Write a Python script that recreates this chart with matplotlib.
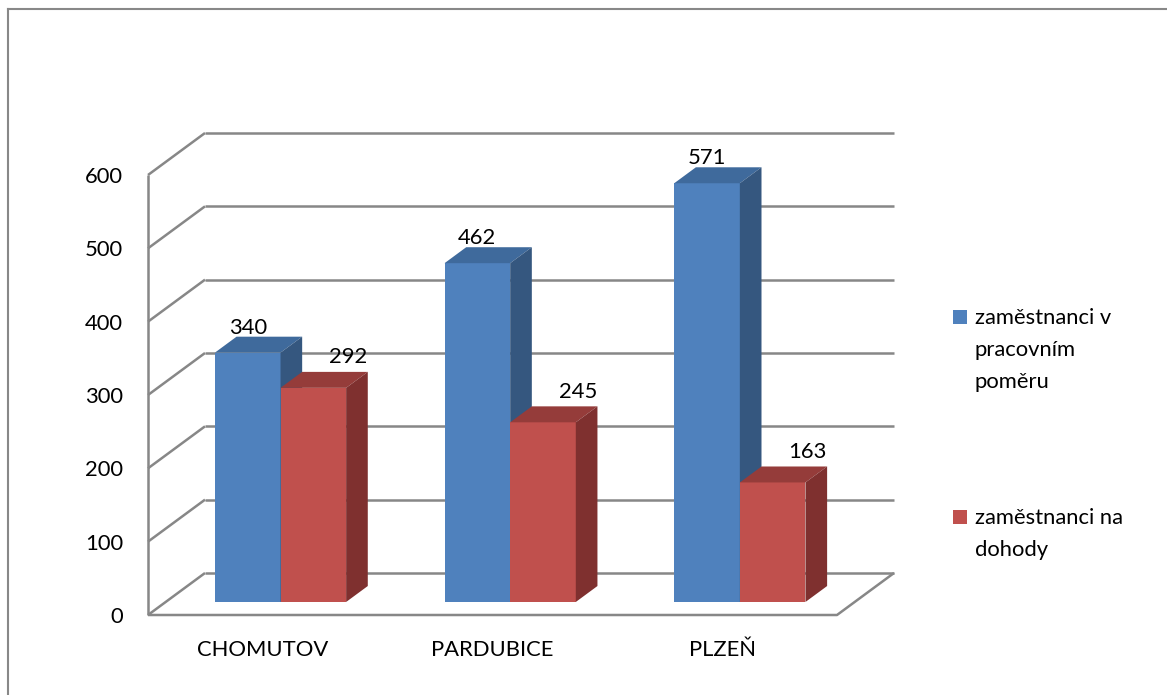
import textwrap
import matplotlib.pyplot as plt
from matplotlib.patches import Polygon, Rectangle
from matplotlib.lines import Line2D

plt.rcParams['font.family'] = ['Lato', 'DejaVu Sans']

# data
mesta = ['CHOMUTOV', 'PARDUBICE', 'PLZEŇ']
serie = ['zaměstnanci v pracovním poměru', 'zaměstnanci na dohody']
pracovni_pomer = [340, 462, 571]
dohody = [292, 245, 163]
hodnoty = [pracovni_pomer, dohody]
y_ticks = [0, 100, 200, 300, 400, 500, 600]

# colours: front / top / side face of each series
barvy = [
    ('#4F81BD', '#3F6A9C', '#35577F'),
    ('#C0504D', '#953C3A', '#7F302F'),
]
grid_color = '#878787'

W, H = 1167, 695
fig = plt.figure(figsize=(W / 100, H / 100), dpi=100)

# axes = front plane of the 3d box
ax = fig.add_axes([148 / W, (H - 615) / H, 689 / W, 440 / H])
ax.set_xlim(0, 3)
ax.set_ylim(0, 600)
for s in ax.spines.values():
    s.set_visible(False)

# depth of the box in data units
DX = 57 / 689 * 3
DY = 42 / 440 * 600
d0, d1 = 0.31, 0.69  # bars sit in the middle of the depth
gap = 1.5
bw = 1 / (2 + gap)

lw = 1.8
def line(xs, ys):
    ax.add_line(Line2D(xs, ys, color=grid_color, lw=lw, zorder=1, clip_on=False,
                       solid_capstyle='butt'))

# walls and gridlines
for t in y_ticks:
    line([0, DX], [t, t + DY])
    line([DX, 3 + DX], [t + DY, t + DY])
line([0, 0], [0, 600])
line([0, 3, 3 + DX], [0, 0, DY])

# 3d bars
z = 2
for i in range(len(mesta)):
    for j, vals in enumerate(hodnoty):
        v = vals[i]
        front, top, side = barvy[j]
        xl = i + bw * gap / 2 + j * bw
        xr = xl + bw
        fx0, fy0 = d0 * DX, d0 * DY
        bx, by = d1 * DX, d1 * DY
        faces = [
            ([(xl + fx0, fy0), (xr + fx0, fy0), (xr + fx0, v + fy0), (xl + fx0, v + fy0)], front),
            ([(xl + fx0, v + fy0), (xr + fx0, v + fy0), (xr + bx, v + by), (xl + bx, v + by)], top),
            ([(xr + fx0, fy0), (xr + fx0, v + fy0), (xr + bx, v + by), (xr + bx, by)], side),
        ]
        for pts, c in faces:
            ax.add_patch(Polygon(pts, closed=True, facecolor=c, edgecolor='none',
                                 zorder=z, clip_on=False))
        z += 1
        # value labels
        if j == 0:
            lx, ly = xl + bw / 2 + fx0, v + by + 4
        else:
            lx, ly = xl + bw / 2 + fx0 + 0.152, v + by + 12
        ax.text(lx, ly, str(v), ha='center', va='baseline', fontsize=15.8,
                color='black', zorder=10)

fs = 15.8
ax.set_yticks(y_ticks)
ax.set_yticklabels([str(t) for t in y_ticks], fontsize=fs)
ax.set_xticks([i + 0.5 for i in range(len(mesta))])
ax.set_xticklabels(mesta, fontsize=fs)
ax.tick_params(axis='y', length=0, pad=18)
ax.tick_params(axis='x', length=0, pad=18)

# legend
def px(x, y):
    return x / W, 1 - y / H

leg_y = [310, 510]
for j, name in enumerate(serie):
    x0, y0 = px(953, leg_y[j] + 14)
    fig.patches.append(Rectangle((x0, y0), 14 / W, 14 / H, transform=fig.transFigure,
                                 facecolor=barvy[j][0], edgecolor='none'))
    for k, radek in enumerate(textwrap.fill(name, 14).split('\n')):
        tx, ty = px(975, leg_y[j] + 14 + 32 * k)
        fig.text(tx, ty, radek, ha='left', va='baseline', fontsize=fs)

# frame
fig.add_artist(Line2D([8 / W, 1], [1 - 9 / H, 1 - 9 / H], color='#888888', lw=1.5,
                      transform=fig.transFigure))
fig.add_artist(Line2D([8 / W, 8 / W], [0, 1 - 9 / H], color='#888888', lw=1.5,
                      transform=fig.transFigure))

fig.savefig('out.png', dpi=100)
